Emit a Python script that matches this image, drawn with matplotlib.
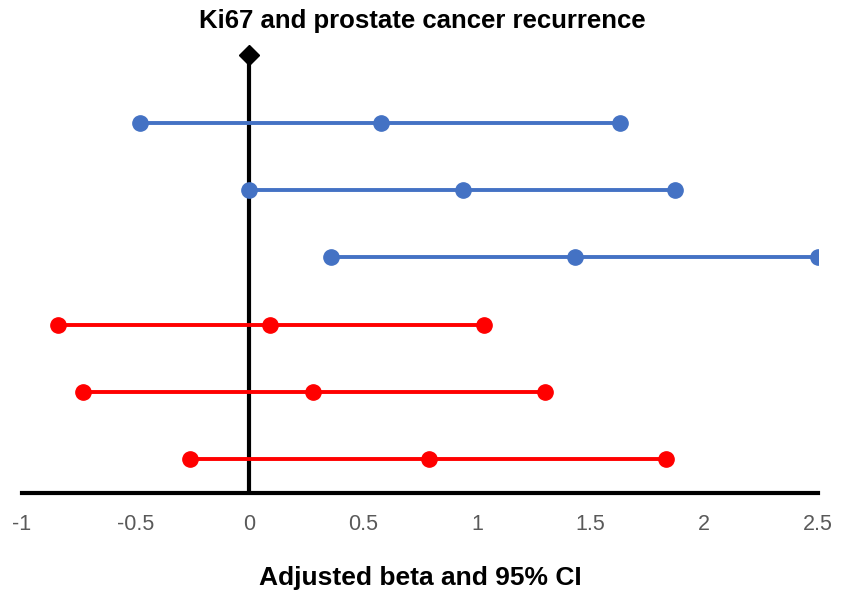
import matplotlib.pyplot as plt

# rows from top to bottom: lower CI, beta, upper CI
lower = [-0.48, 0.0, 0.36, -0.84, -0.73, -0.26]
beta = [0.58, 0.94, 1.43, 0.09, 0.28, 0.79]
upper = [1.63, 1.87, 2.5, 1.03, 1.30, 1.83]
colors = ['#4472C4', '#4472C4', '#4472C4', '#FF0000', '#FF0000', '#FF0000']
rows = [6, 5, 4, 3, 2, 1]

ref_x = [0, 0]
ref_y = [0.5, 7]

plt.rcParams['font.family'] = ['Liberation Sans', 'DejaVu Sans']

fig = plt.figure(figsize=(8.45, 5.97), dpi=100)
ax = fig.add_axes([0.026, 0.174, 0.942, 0.756])

ax.plot(ref_x, ref_y, color='black', lw=3, zorder=1)
ax.plot(ref_x[1:], ref_y[1:], marker='D', color='black', ms=10, zorder=3)

for lo, b, hi, c, y in zip(lower, beta, upper, colors, rows):
    ax.plot([lo, b, hi], [y, y, y], color=c, lw=2.8, marker='o', ms=11, zorder=2)

ax.set_xlim(-1, 2.5)
ax.set_ylim(0.5, 7.2)
ax.set_xticks([-1, -0.5, 0, 0.5, 1, 1.5, 2, 2.5])
ax.set_xticklabels(['-1', '-0.5', '0', '0.5', '1', '1.5', '2', '2.5'])
ax.set_yticks([])
for s in ['top', 'right', 'left']:
    ax.spines[s].set_visible(False)
ax.spines['bottom'].set_linewidth(3)
ax.tick_params(axis='x', length=0, pad=15, labelsize=15.5, labelcolor='#595959')

ax.set_xlabel('Adjusted beta and 95% CI', fontsize=19, fontweight='bold', labelpad=22)
fig.suptitle('Ki67 and prostate cancer recurrence', fontsize=18.5, fontweight='bold', y=0.985)

fig.savefig('out.png', dpi=100)
